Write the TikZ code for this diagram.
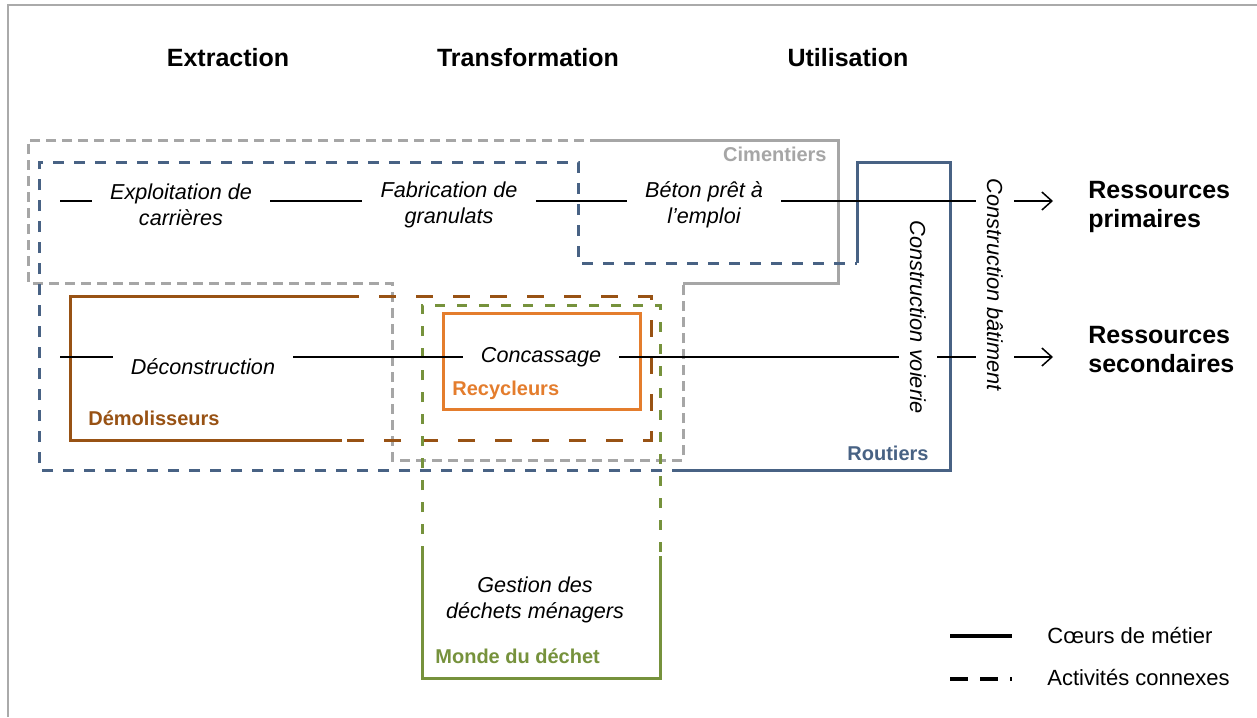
\documentclass[tikz,border=0pt]{standalone}
\usepackage{fontspec}
\setmainfont{Liberation Sans}
\usetikzlibrary{arrows.meta}
\definecolor{cgrey}{RGB}{166,166,166}
\definecolor{cblue}{RGB}{72,98,132}
\definecolor{cbrown}{RGB}{152,82,20}
\definecolor{corange}{RGB}{228,125,45}
\definecolor{cgreen}{RGB}{118,146,60}
\definecolor{cframe}{RGB}{170,170,170}
\begin{document}
\begin{tikzpicture}[x=0.5pt,y=-0.5pt,
  head/.style={font=\fontsize{12.5}{15}\selectfont\bfseries, inner sep=0pt},
  act/.style={font=\fontsize{10.8}{13}\selectfont\itshape, align=center, inner xsep=9pt, inner ysep=2pt},
  vert/.style={font=\fontsize{10.9}{13}\selectfont\itshape, rotate=-90, inner ysep=5.5pt, inner xsep=0pt},
  grp/.style={font=\fontsize{10}{12}\selectfont\bfseries, inner sep=0pt},
  res/.style={font=\fontsize{12.5}{14.5}\selectfont\bfseries, align=left, inner sep=0pt, anchor=west},
  leg/.style={font=\fontsize{11}{13}\selectfont, inner sep=0pt, anchor=west},
  conn/.style={line width=0.75pt},
  arr/.style={line width=0.75pt, -{Straight Barb[length=5pt,width=9pt]}},
  boxsolid/.style={line width=1.5pt},
  greydash/.style={line width=1.5pt, cgrey, dash pattern=on 5pt off 3pt},
  bluedash/.style={line width=1.5pt, cblue, dash pattern=on 5.5pt off 5pt},
  browndash/.style={line width=1.5pt, cbrown, dash pattern=on 8.5pt off 10pt},
  greendash/.style={line width=1.5pt, cgreen, dash pattern=on 5pt off 6pt}
]
\useasboundingbox (0,0) rectangle (1257,717);
\fill[white] (0,0) rectangle (1257,717);
% frame
\draw[cframe, line width=1pt] (8,717) -- (8,5) -- (1257,5);

% headers
\node[head] (hExt) at (228,58) {Extraction};
\node[head] (hTra) at (528,58) {Transformation};
\node[head] (hUti) at (848,58) {Utilisation};

% Cimentiers (grey)
\draw[greydash] (600,140) -- (28,140) -- (28,283) -- (392,283) -- (392,460) -- (683,460) -- (683,283);
\draw[boxsolid, cgrey] (600,140) -- (838,140) -- (838,283) -- (683,283);
% Routiers (blue)
\draw[bluedash] (683,470) -- (39,470) -- (39,162) -- (578,162) -- (578,263) -- (857,263);
\draw[boxsolid, cblue] (857,263) -- (857,162) -- (950,162) -- (950,470) -- (683,470);
% Demolisseurs (brown)
\draw[browndash] (342,296) -- (651,296) -- (651,440) -- (342,440);
\draw[boxsolid, cbrown] (342,296) -- (70,296) -- (70,440) -- (342,440);
% Monde du dechet (green)
\draw[greendash] (422,556) -- (422,305) -- (660,305) -- (660,556);
\draw[boxsolid, cgreen] (422,556) -- (422,678) -- (660,678) -- (660,556);
% Recycleurs (orange)
\draw[boxsolid, corange] (443,313) rectangle (640,409);

% group labels
\node[grp, cgrey, anchor=east] (lCim) at (827,154) {Cimentiers};
\node[grp, cblue, anchor=west] (lRou) at (847,453) {Routiers};
\node[grp, cbrown, anchor=west] (lDem) at (88,418) {Démolisseurs};
\node[grp, corange, anchor=west] (lRec) at (452,390) {Recycleurs};
\node[grp, cgreen, anchor=west] (lMon) at (435,656) {Monde du déchet};

% activities
\node[act] (exp) at (181,205) {Exploitation de\\carrières};
\node[act] (fab) at (449,205) {Fabrication de\\granulats};
\node[act] (bet) at (704,205) {Béton prêt à\\l’emploi};
\node[act] (dec) at (203,367) {Déconstruction};
\node[act] (con) at (541,357) {Concassage};
\node[act] (ges) at (535,600) {Gestion des\\déchets ménagers};
\node[vert] (voi) at (918,317) {Construction voierie};
\node[vert] (bat) at (995,285) {Construction bâtiment};

% outputs
\node[res] (prim) at (1088,207) {Ressources\\primaires};
\node[res] (sec) at (1088,350) {Ressources\\secondaires};

% connectors, primary row
\coordinate (r1) at (0,201);
\coordinate (s1) at (60,201);
\coordinate (e1) at (1053,201);
\draw[conn] (s1) -- (exp.west |- r1);
\draw[conn] (exp.east |- r1) -- (fab.west |- r1);
\draw[conn] (fab.east |- r1) -- (bet.west |- r1);
\draw[conn] (bet.east |- r1) -- (bat.south |- r1);
\draw[arr] (bat.north |- r1) -- (e1);

% connectors, secondary row
\coordinate (r2) at (0,357);
\coordinate (s2) at (60,357);
\coordinate (e2) at (1053,357);
\draw[conn] (s2) -- (dec.west |- r2);
\draw[conn] (dec.east |- r2) -- (con.west);
\draw[conn] (con.east) -- (voi.south |- r2);
\draw[conn] (voi.north |- r2) -- (bat.south |- r2);
\draw[arr] (bat.north |- r2) -- (e2);

% legend
\coordinate (lg1a) at (950,636);
\coordinate (lg1b) at (1012,636);
\coordinate (lg2a) at (950,679);
\coordinate (lg2b) at (1012,679);
\draw[line width=2pt] (lg1a) -- (lg1b);
\draw[line width=2pt, dash pattern=on 9pt off 6pt] (lg2a) -- (lg2b);
\node[leg] (leg1) at (1047,635) {Cœurs de métier};
\node[leg] (leg2) at (1047,677) {Activités connexes};
\end{tikzpicture}
\end{document}
